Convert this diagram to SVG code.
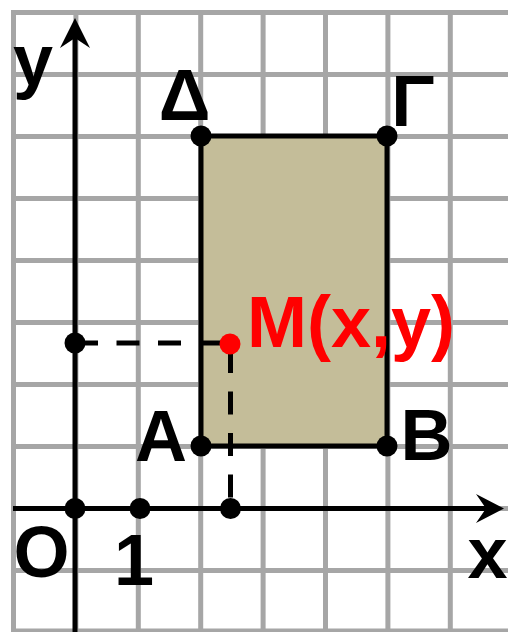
<svg xmlns="http://www.w3.org/2000/svg" width="508" height="632" viewBox="0 0 508 632">
<style>
.grid{stroke:#a6a6a6;stroke-width:5;fill:none}
.ax{stroke:#000;stroke-width:5;fill:none}
.dash{stroke:#000;stroke-width:5;fill:none;stroke-dasharray:23 18.5}
.pt{fill:#000}
.lbl{font-family:"Liberation Sans",Arial,sans-serif;font-weight:bold;font-size:72px;fill:#000;text-anchor:middle}
.red{fill:#ff0000}
</style>
<rect width="508" height="632" fill="#fff"/>
<g id="grid" class="grid">
<path d="M13.5,12.5V632M75.9,12.5V632M138.3,12.5V632M200.7,12.5V632M263.1,12.5V632M325.5,12.5V632M387.9,12.5V632M450.3,12.5V632"/>
<path d="M11,12.5H508M11,74.5H508M11,136.5H508M11,198.5H508M11,260.5H508M11,322.5H508M11,384.5H508M11,446.5H508M11,508.5H508M11,570.5H508M11,631H508"/>
</g>
<g id="rectangle">
<rect x="201" y="136" width="186" height="310" fill="#c4bd99" stroke="#000" stroke-width="5"/>
</g>
<g id="connectors">
<path class="ax" d="M75,632V36"/>
<polygon points="75,18 90,48 75,38 60,48" fill="#000"/>
<path class="ax" d="M13,508.5H486"/>
<polygon points="504,508.5 476,494 486,508.5 476,523" fill="#000"/>
<path class="dash" d="M75,343H230"/>
<path class="dash" d="M230.5,344V508" style="stroke-dashoffset:35.5"/>
</g>
<g id="node-y"><text class="lbl" x="33" y="85">y</text></g>
<g id="node-x"><text class="lbl" x="487.5" y="578">x</text></g>
<g id="node-O"><circle class="pt" cx="75" cy="508.5" r="10.5"/><text class="lbl" x="41.5" y="577">O</text></g>
<g id="node-1"><circle class="pt" cx="140" cy="508.5" r="10.5"/><text class="lbl" x="134" y="585">1</text></g>
<g id="node-xproj"><circle class="pt" cx="230.5" cy="508.5" r="10.5"/></g>
<g id="node-yproj"><circle class="pt" cx="75" cy="343" r="10.5"/></g>
<g id="node-Delta"><circle class="pt" cx="201" cy="136" r="10.5"/><text class="lbl" x="184.5" y="120">Δ</text></g>
<g id="node-Gamma"><circle class="pt" cx="387" cy="136" r="10.5"/><text class="lbl" x="413" y="126">Γ</text></g>
<g id="node-A"><circle class="pt" cx="201" cy="446" r="10.5"/><text class="lbl" x="161" y="461">A</text></g>
<g id="node-B"><circle class="pt" cx="387" cy="446" r="10.5"/><text class="lbl" x="426.5" y="460">B</text></g>
<g id="node-M"><circle class="red" cx="230" cy="344" r="10.5"/><text class="lbl red" x="247" y="347" style="text-anchor:start">M(x,y)</text></g>
</svg>
